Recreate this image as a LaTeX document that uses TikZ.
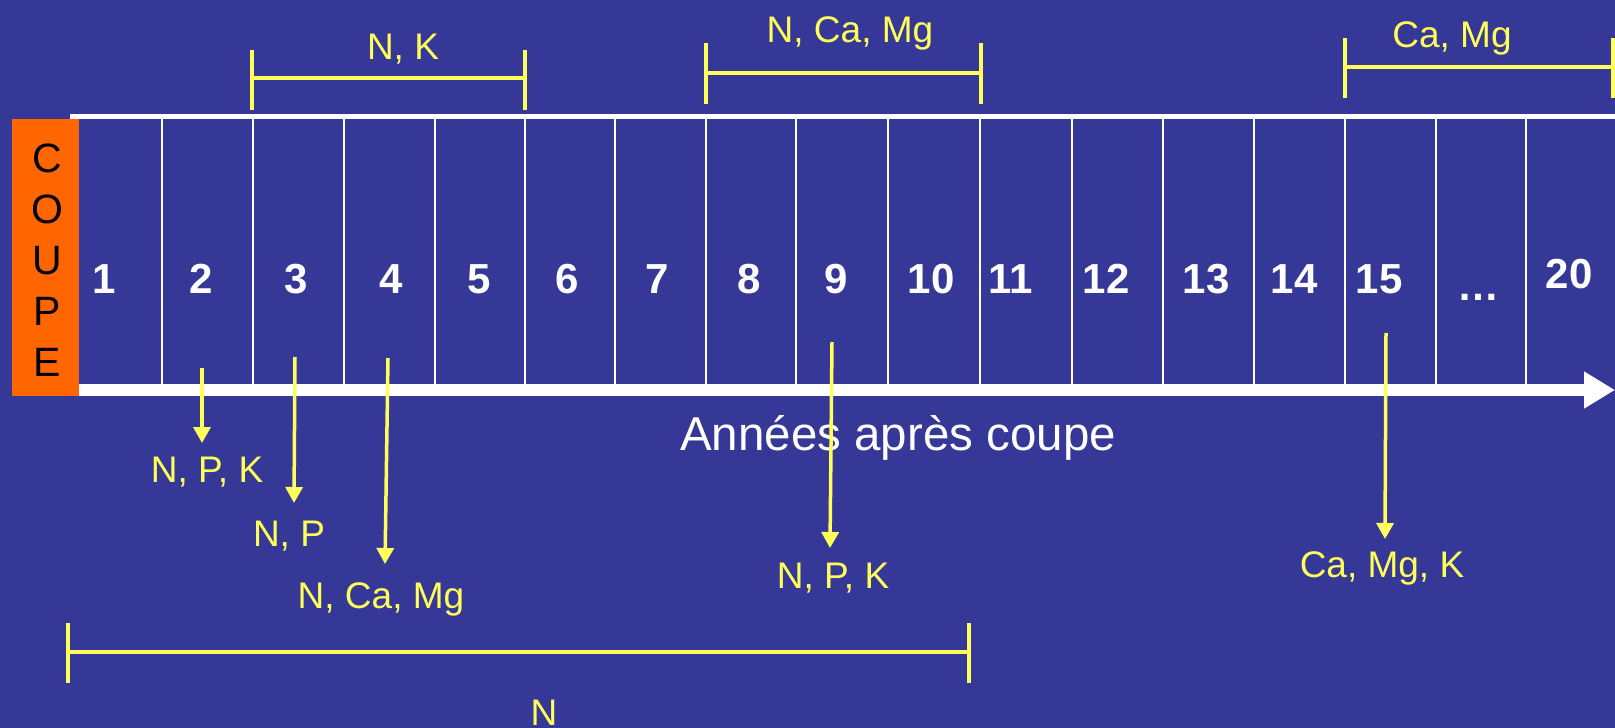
\documentclass[tikz,border=0pt]{standalone}
\usepackage{fontspec}
\setmainfont{Liberation Sans}
\usetikzlibrary{arrows.meta}
\definecolor{bgblue}{RGB}{54,56,152}
\definecolor{cutorange}{RGB}{255,102,0}
\definecolor{lblyellow}{RGB}{255,255,90}

\begin{document}
\begin{tikzpicture}[x=1pt,y=-1pt,
  yearnum/.style={text=white, font=\fontsize{42}{48}\selectfont\bfseries, anchor=base, inner sep=0pt},
  nutrient/.style={text=lblyellow, font=\fontsize{37}{44}\selectfont, anchor=base, inner sep=0pt},
  axislabel/.style={text=white, font=\fontsize{47.5}{54}\selectfont, anchor=base west, inner sep=0pt},
  cutletter/.style={text=black, font=\fontsize{41}{48}\selectfont, anchor=base, inner sep=0pt},
  divider/.style={white, line width=2pt},
  release/.style={lblyellow, line width=3.5pt, -{Triangle[width=17pt,length=16pt]}},
  spanline/.style={lblyellow, line width=3.5pt},
]
\useasboundingbox (0,0) rectangle (1615,728);
\fill[bgblue] (0,0) rectangle (1615,728);

% year cells
\foreach \x in {162,253,344,435,525,615,706,796,888,980,1072,1163,1254,1345,1436,1526}
  \draw[divider] (\x,118) -- (\x,385);
\draw[white, line width=5pt] (70,116) -- (1615,116);

% time axis
\coordinate (axisstart) at (75,390);
\coordinate (axisend) at (1615,390);
\draw[white, line width=12pt, -{Triangle[width=35pt,length=31pt]}] (axisstart) -- (axisend);
\node[axislabel] (axis) at (680,450) {Années après coupe};

% cutting event
\node[fill=cutorange, minimum width=67pt, minimum height=277pt, inner sep=0pt, anchor=north west] (cut) at (12,119) {};
\foreach \l [count=\i] in {C,O,U,P,E}
  \node[cutletter] (cut\i) at (47,{121+\i*51}) {\l};

% year numbers
\foreach \n/\x in {1/104,2/201,3/296,4/391,5/479,6/567,7/657,8/749,9/836,10/931,11/1011,12/1106,13/1206,14/1294,15/1379}
  \node[yearnum] (year\n) at (\x,293) {\n};
\node[yearnum] (yeardots) at (1478,300) {…};
\node[yearnum] (year20) at (1569,288) {20};

% periods of nutrient loss
\foreach \a/\b/\top/\mid/\bot in {252/525/50/78/110, 706/981/43/73/104, 1345/1613/38/67/98, 68/969/623/652/683} {
  \draw[spanline] (\a,\top) -- (\a,\bot);
  \draw[spanline] (\b,\top) -- (\b,\bot);
  \draw[spanline] (\a,\mid) -- (\b,\mid);
}
\node[nutrient] (spanNK) at (403,59) {N, K};
\node[nutrient] (spanNCaMg) at (850,42) {N, Ca, Mg};
\node[nutrient] (spanCaMg) at (1452,47) {Ca, Mg};
\node[nutrient] (spanN) at (544,725) {N};

% peaks of nutrient loss
\coordinate (r2top) at (202,368);  \coordinate (r2tip) at (202,443);
\coordinate (r3top) at (295,357);  \coordinate (r3tip) at (294,503);
\coordinate (r4top) at (388,358);  \coordinate (r4tip) at (385,564);
\coordinate (r9top) at (832,342);  \coordinate (r9tip) at (830,548);
\coordinate (r15top) at (1386,333); \coordinate (r15tip) at (1385,539);
\foreach \r in {r2,r3,r4,r9,r15}
  \draw[release] (\r top) -- (\r tip);
\node[nutrient] (peak2) at (207,482) {N, P, K};
\node[nutrient] (peak3) at (289,546) {N, P};
\node[nutrient] (peak4) at (381,608) {N, Ca, Mg};
\node[nutrient] (peak9) at (833,588) {N, P, K};
\node[nutrient] (peak15) at (1382,577) {Ca, Mg, K};
\end{tikzpicture}
\end{document}
